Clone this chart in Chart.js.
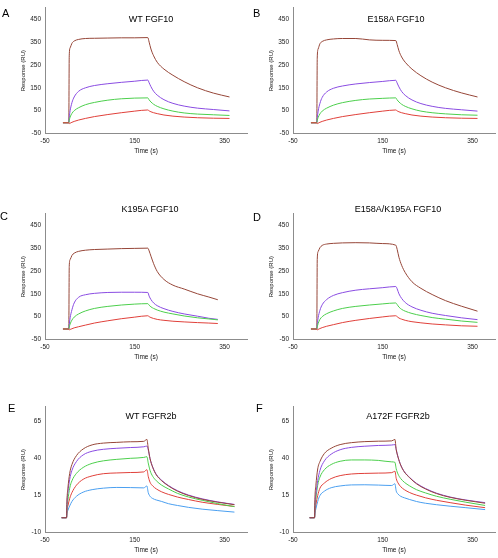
<!DOCTYPE html>
<html>
<head>
<meta charset="utf-8">
<script src="https://cdn.jsdelivr.net/npm/chart.js@4.4.0/dist/chart.umd.min.js"></script>
<style>
  body { margin: 0; background: #fff; }
  #page { position: relative; width: 498px; height: 558px; overflow: hidden; }
  .panel { position: absolute; width: 249px; height: 160px; }
  .txt { position: absolute; font-family: 'Liberation Sans', Arial, sans-serif; color: #000; line-height: 1; white-space: nowrap; }
  .title { font-size: 9px; width: 200px; text-align: center; }
  .letter { font-size: 11px; }
</style>
</head>
<body>
<div id="page">
  <div class="panel" style="left:0;top:0"><canvas id="chartA" width="249" height="160"></canvas></div>
  <div class="panel" style="left:248px;top:0"><canvas id="chartB" width="249" height="160"></canvas></div>
  <div class="panel" style="left:0;top:206px"><canvas id="chartC" width="249" height="160"></canvas></div>
  <div class="panel" style="left:248px;top:206px"><canvas id="chartD" width="249" height="160"></canvas></div>
  <div class="panel" style="left:0;top:399px"><canvas id="chartE" width="249" height="160"></canvas></div>
  <div class="panel" style="left:248px;top:399px"><canvas id="chartF" width="249" height="160"></canvas></div>

  <div class="txt letter" style="left:2px;top:8px">A</div>
  <div class="txt letter" style="left:253px;top:8px">B</div>
  <div class="txt letter" style="left:0;top:211px">C</div>
  <div class="txt letter" style="left:253px;top:212px">D</div>
  <div class="txt letter" style="left:8px;top:403px">E</div>
  <div class="txt letter" style="left:256px;top:403px">F</div>

  <div class="txt title" style="left:51px;top:15px">WT FGF10</div>
  <div class="txt title" style="left:296px;top:15px">E158A FGF10</div>
  <div class="txt title" style="left:50px;top:205px">K195A FGF10</div>
  <div class="txt title" style="left:298px;top:205px">E158A/K195A FGF10</div>
  <div class="txt title" style="left:51px;top:412px">WT FGFR2b</div>
  <div class="txt title" style="left:298px;top:412px">A172F FGFR2b</div>
</div>

<script>
// tick labels
var xTicks = [-50, 150, 350];
var fgf10YTicks = [-50, 50, 150, 250, 350, 450];
var r2bYTicks = [-10, 15, 40, 65];

// time points (s)
var timeFgf10 = [-10, 3, 4, 6, 10, 15, 25, 40, 60, 90, 120, 150, 179, 182, 186, 192, 200, 215, 235, 260, 290, 325, 361];
var timeK195A = [-10, 3, 4, 6, 10, 15, 25, 40, 60, 90, 120, 150, 179, 182, 186, 192, 200, 215, 235, 260, 290, 315, 335];
var timeWtR2b = [-13, -2, -1, 1, 5, 10, 20, 35, 55, 80, 110, 140, 170, 177, 180, 184, 190, 198, 210, 225, 245, 270, 300, 335, 372];
var timeA172F = [-13, -2, -1, 1, 5, 10, 20, 35, 55, 80, 110, 140, 170, 177, 180, 184, 190, 198, 210, 225, 245, 270, 300, 335, 378];

// A - WT FGF10
var wtBrown  = [-3, -3, 290, 325, 345, 355, 362, 366, 367, 368, 369, 369, 370, 350, 320, 290, 262, 232, 205, 177, 150, 127, 110];
var wtPurple = [-3, -3, 20, 50, 85, 110, 135, 150, 160, 168, 174, 179, 184, 172, 155, 135, 118, 98, 82, 70, 61, 55, 49];
var wtGreen  = [-3, -3, 8, 22, 38, 50, 63, 76, 86, 96, 102, 105, 106, 97, 88, 78, 69, 58, 48, 40, 35, 32, 29];
var wtRed    = [-3, -3, -7, -5, -1, 3, 9, 16, 24, 33, 41, 48, 53, 49, 45, 41, 37, 31, 26, 22, 19, 17, 16];

// B - E158A FGF10
var e158Brown  = [-3, -3, 280, 320, 343, 353, 360, 364, 366, 366, 360, 358, 357, 340, 312, 285, 262, 232, 203, 175, 150, 128, 110];
var e158Purple = [-3, -3, 18, 48, 82, 108, 132, 148, 158, 167, 173, 178, 183, 171, 154, 134, 117, 97, 81, 69, 60, 54, 48];
var e158Green  = [-3, -3, 7, 20, 36, 48, 61, 74, 85, 95, 101, 104, 106, 97, 88, 78, 69, 58, 48, 41, 36, 32, 30];
var e158Red    = [-3, -3, -7, -5, -1, 3, 9, 16, 24, 33, 41, 48, 53, 49, 45, 41, 37, 31, 26, 22, 19, 17, 16];

// C - K195A FGF10
var k195Brown  = [-4, -4, 270, 300, 318, 328, 336, 341, 344, 346, 348, 349, 350, 338, 315, 282, 248, 213, 188, 171, 150, 136, 124];
var k195Purple = [-4, -4, 15, 45, 80, 110, 135, 146, 152, 156, 157, 157, 156, 140, 125, 110, 98, 85, 73, 62, 52, 43, 38];
var k195Green  = [-4, -4, 5, 18, 35, 48, 62, 75, 86, 95, 101, 105, 107, 100, 93, 86, 79, 70, 62, 53, 45, 40, 36];
var k195Red    = [-4, -4, -8, -6, -3, 1, 6, 13, 22, 32, 41, 48, 54, 50, 46, 42, 38, 34, 30, 27, 24, 22, 20];

// D - E158A/K195A FGF10
var dblBrown  = [-4, -4, 300, 335, 352, 362, 368, 371, 373, 374, 373, 370, 363, 345, 310, 275, 243, 203, 174, 147, 120, 96, 74];
var dblPurple = [-4, -4, 15, 45, 78, 102, 125, 143, 155, 166, 172, 177, 182, 172, 150, 130, 112, 93, 78, 65, 55, 45, 37];
var dblGreen  = [-4, -4, 5, 20, 38, 50, 63, 75, 86, 95, 101, 106, 110, 103, 92, 82, 74, 64, 55, 46, 39, 31, 25];
var dblRed    = [-4, -4, -8, -6, -2, 2, 8, 15, 24, 34, 42, 49, 54, 50, 44, 39, 34, 28, 23, 18, 14, 10, 8];

// E - WT FGFR2b
var r2bBrown  = [0, 0, 12, 20, 30, 36, 42, 46.5, 49.3, 50.5, 51, 51.4, 51.7, 53, 47, 40, 34, 29, 25, 21.5, 18, 15, 12.5, 10.5, 8.8];
var r2bPurple = [0, 0, 10, 17, 26, 32, 38, 42.5, 45, 46.3, 47, 47.5, 48, 48.5, 46, 40, 34.3, 29.3, 25.3, 21.8, 18.3, 15.3, 12.8, 10.7, 9];
var r2bGreen  = [0, 0, 7, 12, 20, 25, 30, 34, 36.8, 38.5, 39.5, 40.2, 40.8, 41.3, 37, 32, 28, 25, 22, 19.5, 16.5, 14, 11.8, 9.5, 7.5];
var r2bRed    = [0, 0, 5, 8, 13, 17, 22, 26, 28.3, 29.8, 30.3, 30.6, 31, 32.5, 28, 24, 21.5, 19.5, 17.5, 15.8, 14, 12.3, 10.5, 9, 7.6];
var r2bBlue   = [0, 0, 3, 5, 8, 11, 14.5, 17.3, 19, 20, 20.5, 20.4, 20.2, 21.5, 17, 14.5, 13, 12, 11, 9.5, 8.3, 7, 5.8, 4.8, 3.8];

// F - A172F FGFR2b
var a172Brown  = [0, 0, 14, 22, 33, 38, 43.5, 47, 49.5, 50.8, 51.5, 51.8, 52, 53, 46, 41, 35.5, 31, 27, 23, 19.5, 16.3, 13.8, 11.8, 9.8];
var a172Purple = [0, 0, 10, 16, 25, 32, 38.5, 43, 46, 47.6, 48.4, 48.9, 49.2, 49.5, 46, 41, 35.7, 31.2, 27.2, 23.3, 19.8, 16.6, 14, 12, 10.2];
var a172Green  = [0, 0, 8, 13, 22, 27.5, 32.5, 36, 38.2, 39.1, 39.1, 38.8, 37.8, 37.5, 33, 29.5, 26.5, 24, 21.5, 19, 16.8, 14.5, 12.5, 10.5, 8.3];
var a172Red    = [0, 0, 5, 9, 15, 20, 23.5, 26.5, 28.5, 29.6, 30, 30.2, 30.5, 31.5, 26.5, 23.5, 21, 19, 17, 15.3, 13.5, 11.8, 10.2, 8.5, 6.8];
var a172Blue   = [0, 0, 3, 6, 11, 15, 18, 20.3, 21.5, 22.2, 22.3, 22.1, 21.8, 23, 18, 16, 14.5, 13.5, 12.3, 11, 9.8, 8.8, 7.8, 6.8, 5.5];

var BROWN = '#964638', PURPLE = '#8a4ce2', GREEN = '#4ccf4c', RED = '#e0403a', BLUE = '#4a9ff0';
var axisColor = '#8c8c8c';
var font = { family: "'Liberation Sans', Arial, sans-serif", size: 6.5 };

// first series in the list ends up drawn on top
function makePanel(id, times, series, yMin, yMax, yTicks) {
    var datasets = series.map(function(s) {
        return {
            data: times.map(function(t, i) { return { x: t, y: s[0][i] }; }),
            borderColor: s[1],
            borderWidth: 1,
            pointRadius: 0,
            cubicInterpolationMode: 'monotone',
            fill: false
        };
    });
    new Chart(document.getElementById(id), {
        type: 'line',
        data: { datasets: datasets },
        options: {
            responsive: false,
            animation: false,
            devicePixelRatio: 1,
            layout: { padding: { top: 4, right: 2, left: 0, bottom: 0 } },
            plugins: { legend: { display: false }, tooltip: { enabled: false } },
            scales: {
                x: {
                    type: 'linear', min: -50, max: 400,
                    grid: { display: false, drawTicks: false },
                    border: { color: axisColor, width: 1 },
                    ticks: { color: '#222', font: font, padding: 4, maxRotation: 0 },
                    title: { display: true, text: 'Time (s)', color: '#111', font: font, padding: { top: 0, bottom: 5 } },
                    afterBuildTicks: function(s) { s.ticks = xTicks.map(function(v) { return { value: v }; }); },
                    afterFit: function(s) { s.height = 26.5; }
                },
                y: {
                    type: 'linear', min: yMin, max: yMax,
                    grid: { display: false, drawTicks: false },
                    border: { color: axisColor, width: 1 },
                    ticks: { color: '#222', font: font, padding: 4 },
                    title: { display: true, text: 'Response (RU)', color: '#111', font: { family: font.family, size: 6 }, padding: { top: 20, bottom: 0 } },
                    afterBuildTicks: function(s) { s.ticks = yTicks.map(function(v) { return { value: v }; }); },
                    afterFit: function(s) { s.width = 45; }
                }
            }
        }
    });
}

makePanel('chartA', timeFgf10, [[wtRed, RED], [wtGreen, GREEN], [wtPurple, PURPLE], [wtBrown, BROWN]], -50, 500, fgf10YTicks);
makePanel('chartB', timeFgf10, [[e158Red, RED], [e158Green, GREEN], [e158Purple, PURPLE], [e158Brown, BROWN]], -50, 500, fgf10YTicks);
makePanel('chartC', timeK195A, [[k195Red, RED], [k195Green, GREEN], [k195Purple, PURPLE], [k195Brown, BROWN]], -50, 500, fgf10YTicks);
makePanel('chartD', timeFgf10, [[dblRed, RED], [dblGreen, GREEN], [dblPurple, PURPLE], [dblBrown, BROWN]], -50, 500, fgf10YTicks);
makePanel('chartE', timeWtR2b, [[r2bBrown, BROWN], [r2bPurple, PURPLE], [r2bGreen, GREEN], [r2bRed, RED], [r2bBlue, BLUE]], -10, 75, r2bYTicks);
makePanel('chartF', timeA172F, [[a172Brown, BROWN], [a172Purple, PURPLE], [a172Green, GREEN], [a172Red, RED], [a172Blue, BLUE]], -10, 75, r2bYTicks);
</script>
</body>
</html>
